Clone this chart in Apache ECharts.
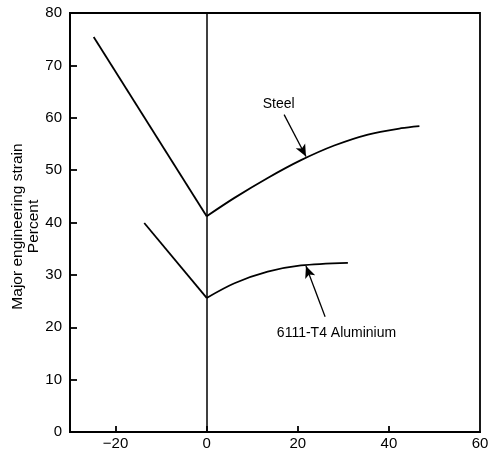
<!DOCTYPE html>
<html><head><meta charset="utf-8">
<script src="https://cdn.jsdelivr.net/npm/echarts@6/dist/echarts.min.js"></script>
<style>html,body{margin:0;padding:0;background:#fff}#c{width:488px;height:451px}</style>
</head><body><div id="c"></div>
<script>
// Data
const xLabelValues = [-20, 0, 20, 40, 60];
const xTickValues = [-20, 0, 20, 40];
const steelLeft = [[-24.8, 75.4], [0, 41.2]];
const steelRight = [[0, 41.2], [6.1, 44.7], [13.4, 48.5], [20.7, 51.9], [28.0, 54.7], [35.4, 56.8], [42.7, 58.0], [46.7, 58.4]];
const aluLeft = [[-13.7, 39.9], [0, 25.6]];
const aluRight = [[0, 25.6], [6.1, 28.4], [13.4, 30.6], [20.7, 31.8], [31.0, 32.3]];
const steelArrow = [[17.0, 60.6], [21.8, 52.6]];
const aluArrow = [[26.0, 22.0], [21.8, 31.7]];
const steelLabelPos = [15.8, 62.6];
const aluLabelPos = [28.5, 18.9];

const font = 'Liberation Sans, Arial, sans-serif';
const lineStyle = {color: '#000', width: 1.8};
const chart = echarts.init(document.getElementById('c'), null, {renderer: 'canvas'});
chart.setOption({
  animation: false,
  backgroundColor: '#fff',
  grid: {left: 70, right: 8, top: 13, bottom: 19, show: true, borderColor: '#000', borderWidth: 1.8,
    containLabel: false, outerBoundsMode: 'none'},
  xAxis: {
    type: 'value', min: -30, max: 60,
    splitLine: {show: false},
    axisLine: {onZero: false, lineStyle: {color: '#000', width: 1.8}},
    axisTick: {inside: true, length: 6, customValues: xTickValues, lineStyle: {color: '#000', width: 1.8}},
    axisLabel: {customValues: xLabelValues, color: '#000', fontSize: 15, fontFamily: font, margin: 4,
      formatter: v => v < 0 ? '\u2212' + Math.abs(v) : String(v)}
  },
  yAxis: {
    type: 'value', min: 0, max: 80, interval: 10,
    name: 'Major engineering strain\nPercent', nameLocation: 'middle', nameGap: 28, nameRotate: 90,
    nameMoveOverlap: false,
    nameTextStyle: {color: '#000', fontSize: 15.5, fontFamily: font, lineHeight: 16, padding: [0, 8, 0, 0]},
    splitLine: {show: false},
    axisLine: {onZero: false, lineStyle: {color: '#000', width: 1.8}},
    axisTick: {inside: true, length: 7, lineStyle: {color: '#000', width: 1.8}},
    axisLabel: {color: '#000', fontSize: 15, fontFamily: font, margin: 8}
  },
  series: [
    {type: 'line', data: steelLeft, symbol: 'none', lineStyle: lineStyle,
      markLine: {silent: true, symbol: 'none', lineStyle: {color: '#000', width: 1.5, type: 'solid'}, label: {show: false},
        data: [{xAxis: 0}]}},
    {type: 'line', data: steelRight, symbol: 'none', smooth: 0.3, lineStyle: lineStyle,
      markLine: {silent: true, symbol: ['none', 'arrow'], symbolSize: [8, 12], lineStyle: {color: '#000', width: 1.3, type: 'solid'}, label: {show: false},
        data: [[{coord: steelArrow[0]}, {coord: steelArrow[1]}]]},
      markPoint: {symbol: 'circle', symbolSize: 0, data: [{coord: steelLabelPos}],
        label: {show: true, formatter: 'Steel', color: '#000', fontSize: 14, fontFamily: font}}},
    {type: 'line', data: aluLeft, symbol: 'none', lineStyle: lineStyle},
    {type: 'line', data: aluRight, symbol: 'none', smooth: 0.3, lineStyle: lineStyle,
      markLine: {silent: true, symbol: ['none', 'arrow'], symbolSize: [8, 12], lineStyle: {color: '#000', width: 1.3, type: 'solid'}, label: {show: false},
        data: [[{coord: aluArrow[0]}, {coord: aluArrow[1]}]]},
      markPoint: {symbol: 'circle', symbolSize: 0, data: [{coord: aluLabelPos}],
        label: {show: true, formatter: '6111-T4 Aluminium', color: '#000', fontSize: 14, fontFamily: font}}}
  ]
});
</script></body></html>
